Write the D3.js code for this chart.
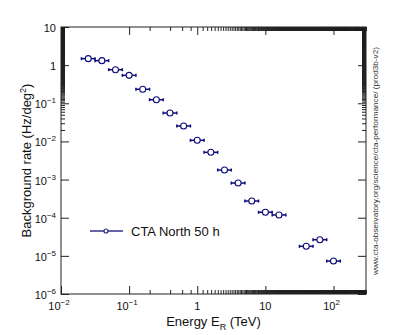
<!DOCTYPE html>
<html>
<head>
<meta charset="utf-8">
<script src="https://cdn.jsdelivr.net/npm/d3@7"></script>
<style>
  body { margin: 0; background: white; }
  text { font-family: "Liberation Sans", Arial, Helvetica, sans-serif; }
</style>
</head>
<body>
<script>
const width = 407, height = 335;

// bin centres (log10 of energy in TeV), each bin is 0.2 decade wide
const logEnergy = [-1.6, -1.4, -1.2, -1.0, -0.8, -0.6, -0.4, -0.2, 0.0, 0.2, 0.4, 0.6, 0.8, 1.0, 1.2, 1.6, 1.8, 2.0];
const rate = [1.48, 1.31, 0.76, 0.54, 0.233, 0.124, 0.0556, 0.0254, 0.0107, 0.00518, 0.00178, 8.1e-4, 2.74e-4, 1.39e-4, 1.18e-4, 1.78e-5, 2.65e-5, 7.3e-6];
const halfWidth = 0.1;

const xMajor = [0.01, 0.1, 1, 10, 100];
const xLabels = [["10", "\u22122"], ["10", "\u22121"], ["1", ""], ["10", ""], ["10", "2"]];
const yMajor = [1e-6, 1e-5, 1e-4, 1e-3, 1e-2, 1e-1, 1, 10];
const yLabels = [["10", "\u22126"], ["10", "\u22125"], ["10", "\u22124"], ["10", "\u22123"], ["10", "\u22122"], ["10", "\u22121"], ["1", ""], ["10", ""]];

const legendLabel = "CTA North 50 h";
const xTitle = "Energy E";
const yTitle = "Background rate (Hz/deg";
const credit = "www.cta-observatory.org/science/cta-performance/ (prod3b-v2)";

const navy = "#0c0c7a";

const svg = d3.select("body").append("svg")
    .attr("width", width)
    .attr("height", height);

svg.append("rect")
    .attr("width", width)
    .attr("height", height)
    .attr("fill", "white");

const padL = 61, padR = 366, padT = 27, padB = 294;

const x = d3.scaleLog().domain([0.01, 300]).range([padL, padR]);
const y = d3.scaleLog().domain([1e-6, 10]).range([padB, padT]);

const xMinor = x.ticks(1000).filter(v => !xMajor.includes(v));
const yMinor = y.ticks(1000).filter(v => !yMajor.includes(v));

// ticks on all four sides, pointing inward (ROOT style)
function tickAxis(axisFn, scale, values, size, translate) {
    const g = svg.append("g")
        .attr("transform", translate)
        .call(axisFn(scale).tickValues(values).tickSize(-size).tickFormat(""));
    g.select(".domain").remove();
    g.selectAll("line").attr("stroke", "#222");
    return g;
}

tickAxis(d3.axisBottom, x, xMajor, 8, `translate(0,${padB})`);
tickAxis(d3.axisBottom, x, xMinor, 4, `translate(0,${padB})`);
tickAxis(d3.axisTop, x, xMajor, 8, `translate(0,${padT})`);
tickAxis(d3.axisTop, x, xMinor, 4, `translate(0,${padT})`);
tickAxis(d3.axisLeft, y, yMajor, 8, `translate(${padL},0)`);
tickAxis(d3.axisLeft, y, yMinor, 4, `translate(${padL},0)`);
tickAxis(d3.axisRight, y, yMajor, 8, `translate(${padR},0)`);
tickAxis(d3.axisRight, y, yMinor, 4, `translate(${padR},0)`);

svg.append("rect")
    .attr("x", padL).attr("y", padT)
    .attr("width", padR - padL).attr("height", padB - padT)
    .attr("fill", "none")
    .attr("stroke", "#222")
    .attr("stroke-width", 1);

// tick labels with superscript exponents
function powLabel(sel, base, exp) {
    sel.append("tspan").text(base);
    if (exp) sel.append("tspan").attr("dy", -5).attr("font-size", 8).text(exp);
}

xMajor.forEach((v, i) => {
    const t = svg.append("text")
        .attr("x", x(v) + (xLabels[i][1] ? -2 : 0))
        .attr("y", padB + 16)
        .attr("text-anchor", "middle")
        .attr("font-size", 11)
        .attr("fill", "#111");
    powLabel(t, xLabels[i][0], xLabels[i][1]);
});

yMajor.forEach((v, i) => {
    const t = svg.append("text")
        .attr("x", padL - 5)
        .attr("y", y(v) + 5)
        .attr("text-anchor", "end")
        .attr("font-size", 11)
        .attr("fill", "#111");
    powLabel(t, yLabels[i][0], yLabels[i][1]);
});

// axis titles
const xt = svg.append("text")
    .attr("x", (padL + padR) / 2)
    .attr("y", 326)
    .attr("text-anchor", "middle")
    .attr("font-size", 13)
    .attr("fill", "#111");
xt.append("tspan").text(xTitle);
xt.append("tspan").attr("dy", 4).attr("font-size", 9).text("R");
xt.append("tspan").attr("dy", -4).text(" (TeV)");

const yt = svg.append("text")
    .attr("transform", `translate(31,${(padT + padB) / 2}) rotate(-90)`)
    .attr("text-anchor", "middle")
    .attr("font-size", 13)
    .attr("fill", "#111");
yt.append("tspan").text(yTitle);
yt.append("tspan").attr("dy", -5).attr("font-size", 9).text("2");
yt.append("tspan").attr("dy", 5).text(")");

// credit line on the right
svg.append("text")
    .attr("transform", `translate(378,${(47 + 275) / 2}) rotate(-90)`)
    .attr("text-anchor", "middle")
    .attr("font-size", 7.5)
    .attr("textLength", 228)
    .attr("lengthAdjust", "spacingAndGlyphs")
    .attr("fill", "#333")
    .text(credit);

// data: horizontal bin-width bars with end caps and open circles
const points = logEnergy.map((le, i) => ({
    lo: Math.pow(10, le - halfWidth),
    c: Math.pow(10, le),
    hi: Math.pow(10, le + halfWidth),
    r: rate[i]
}));

const pts = svg.append("g");
pts.selectAll("line.bar")
    .data(points)
    .enter().append("line")
    .attr("class", "bar")
    .attr("x1", d => x(d.lo)).attr("x2", d => x(d.hi))
    .attr("y1", d => y(d.r)).attr("y2", d => y(d.r))
    .attr("stroke", navy).attr("stroke-width", 1.5);

pts.selectAll("line.capl")
    .data(points)
    .enter().append("line")
    .attr("class", "capl")
    .attr("x1", d => x(d.lo)).attr("x2", d => x(d.lo))
    .attr("y1", d => y(d.r) - 1.5).attr("y2", d => y(d.r) + 1.5)
    .attr("stroke", navy).attr("stroke-width", 1.5);

pts.selectAll("line.caph")
    .data(points)
    .enter().append("line")
    .attr("class", "caph")
    .attr("x1", d => x(d.hi)).attr("x2", d => x(d.hi))
    .attr("y1", d => y(d.r) - 1.5).attr("y2", d => y(d.r) + 1.5)
    .attr("stroke", navy).attr("stroke-width", 1.5);

pts.selectAll("circle")
    .data(points)
    .enter().append("circle")
    .attr("cx", d => x(d.c)).attr("cy", d => y(d.r))
    .attr("r", 3)
    .attr("fill", "white")
    .attr("stroke", navy).attr("stroke-width", 1.1);

// legend
const ly = 231;
svg.append("line")
    .attr("x1", 90).attr("x2", 123).attr("y1", ly).attr("y2", ly)
    .attr("stroke", "#30308a").attr("stroke-width", 1.5);
svg.append("circle")
    .attr("cx", 106).attr("cy", ly).attr("r", 2)
    .attr("fill", "white").attr("stroke", "#30308a").attr("stroke-width", 1.2);
svg.append("text")
    .attr("x", 131).attr("y", ly + 5)
    .attr("font-size", 13)
    .attr("fill", "#111")
    .text(legendLabel);
</script>
</body>
</html>
